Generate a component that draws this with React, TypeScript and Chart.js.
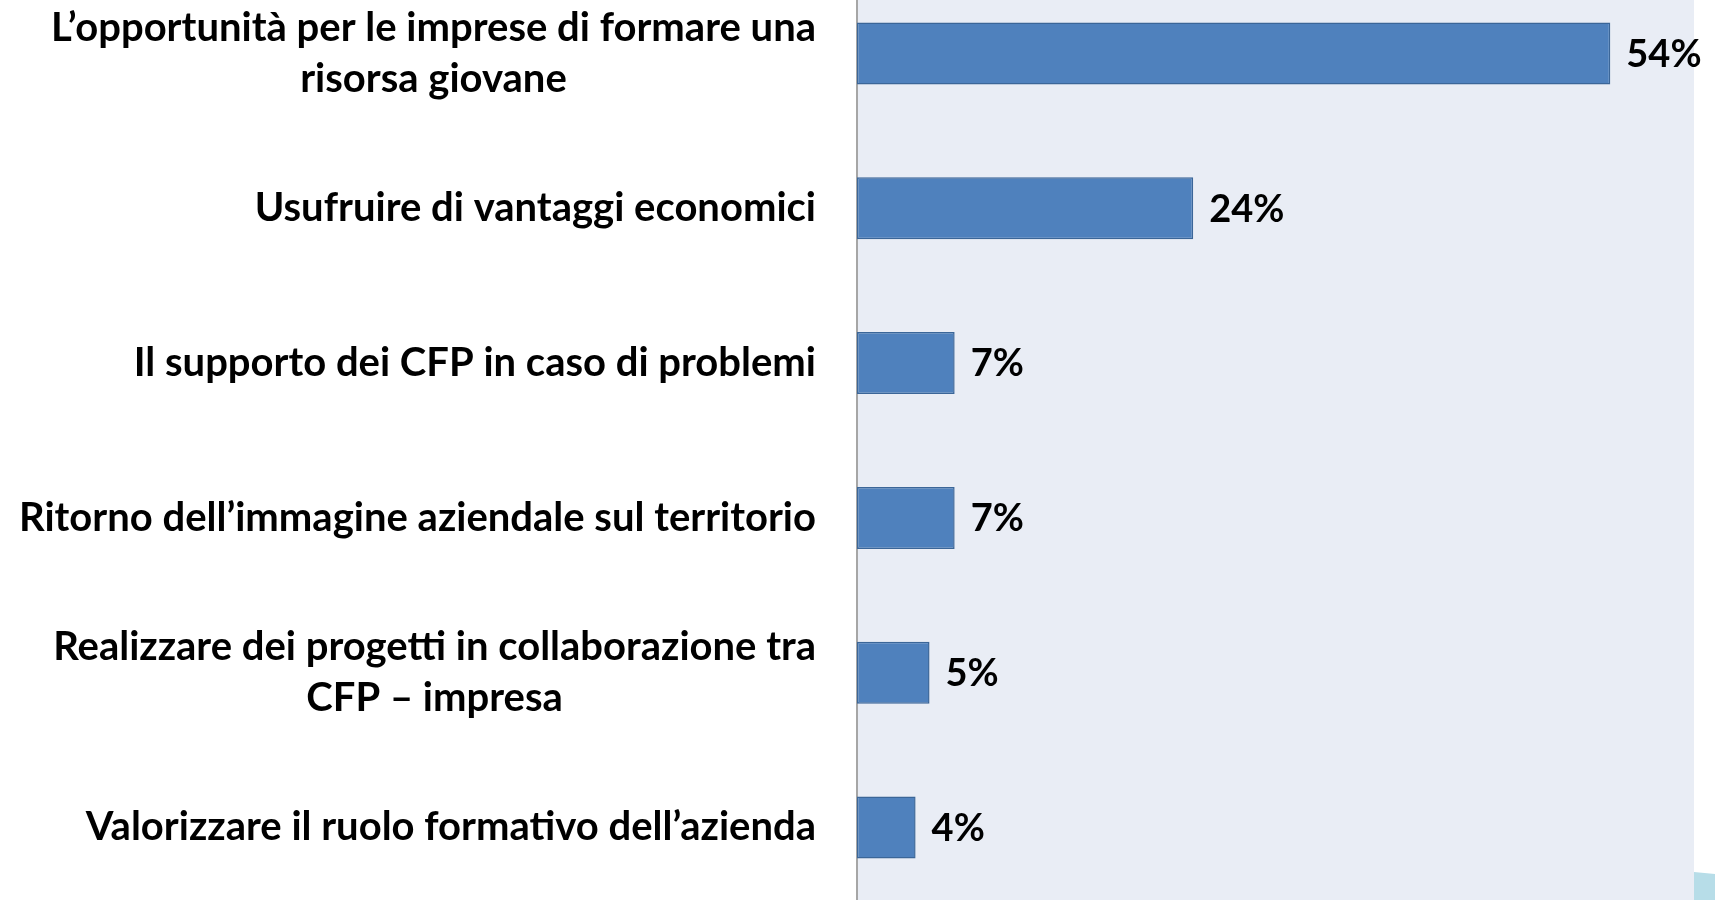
import React, { useEffect, useRef } from "react";
import { Chart, registerables } from "chart.js";

Chart.register(...registerables);

const categories: string[][] = [
  ["L’opportunità per le imprese di formare una", "risorsa giovane"],
  ["Usufruire di vantaggi economici"],
  ["Il supporto dei CFP in caso di problemi"],
  ["Ritorno dell’immagine aziendale sul territorio"],
  ["Realizzare dei progetti in collaborazione tra", "CFP – impresa"],
  ["Valorizzare il ruolo formativo dell’azienda"],
];
const values: number[] = [54, 24.1, 7, 7, 5.2, 4.2];
const valueLabels: string[] = ["54%", "24%", "7%", "7%", "5%", "4%"];

const FONT = "bold 40px Lato";
const VALUE_FONT = "bold 38px Lato";

export default function App() {
  const ref = useRef<HTMLCanvasElement>(null);
  useEffect(() => {
    if (!ref.current) return;
    const bgPlugin = {
      id: "bg",
      beforeDraw(chart: any) {
        const { ctx, chartArea } = chart;
        ctx.save();
        ctx.fillStyle = "#E9EDF5";
        ctx.fillRect(chartArea.left, 0, chartArea.right - chartArea.left, chart.height);
        // decorative corner shape
        ctx.fillStyle = "#B7DDE8";
        ctx.beginPath();
        ctx.moveTo(chartArea.right, chart.height - 33);
        ctx.lineTo(chart.width, chart.height - 31);
        ctx.lineTo(chart.width, chart.height);
        ctx.lineTo(chartArea.right, chart.height);
        ctx.closePath();
        ctx.fill();
        ctx.restore();
      },
    };
    const labelPlugin = {
      id: "labels",
      afterDraw(chart: any) {
        const { ctx } = chart;
        const yScale = chart.scales.y;
        const xRight = chart.chartArea.left - 41;
        ctx.save();
        ctx.font = FONT;
        ctx.fillStyle = "#000000";
        ctx.textBaseline = "middle";
        ctx.textAlign = "center";
        categories.forEach((lines, i) => {
          const yc = yScale.getPixelForValue(i);
          const maxW = Math.max(...lines.map((l) => ctx.measureText(l).width));
          const cx = xRight - maxW / 2;
          const lh = 51;
          const y0 = yc - ((lines.length - 1) * lh) / 2;
          lines.forEach((l, j) => ctx.fillText(l, cx, y0 + j * lh));
        });
        const meta = chart.getDatasetMeta(0);
        ctx.font = VALUE_FONT;
        ctx.textAlign = "left";
        meta.data.forEach((bar: any, i: number) => {
          ctx.fillText(valueLabels[i], bar.x + 16, bar.y + 1);
        });
        ctx.restore();
      },
    };
    const chart = new Chart(ref.current, {
      type: "bar",
      data: {
        labels: categories.map((c) => c.join(" ")),
        datasets: [
          {
            data: values,
            backgroundColor: "#4F81BD",
            borderColor: "#3B6698",
            borderWidth: 1.5,
            borderSkipped: false,
            barPercentage: 0.5,
            categoryPercentage: 0.8,
          },
        ],
      },
      options: {
        indexAxis: "y",
        responsive: false,
        animation: false,
        layout: { padding: { left: 0, right: 21, top: 0, bottom: 0 } },
        plugins: { legend: { display: false }, tooltip: { enabled: false } },
        scales: {
          x: {
            min: 0,
            max: 60,
            display: false,
          },
          y: {
            grid: { display: false, drawTicks: false },
            border: { display: true, color: "#A6A6A6", width: 2 },
            ticks: { display: false },
            afterFit: (s: any) => {
              s.width = 857;
            },
          },
        },
      },
      plugins: [bgPlugin, labelPlugin],
    });
    return () => chart.destroy();
  }, []);
  return (
    <div style={{ position: "fixed", left: 0, top: 0, width: 1715, height: 900, overflow: "hidden", background: "#ffffff" }}>
      <canvas ref={ref} width={1715} height={929} style={{ display: "block", marginTop: -24 }} />
    </div>
  );
}
